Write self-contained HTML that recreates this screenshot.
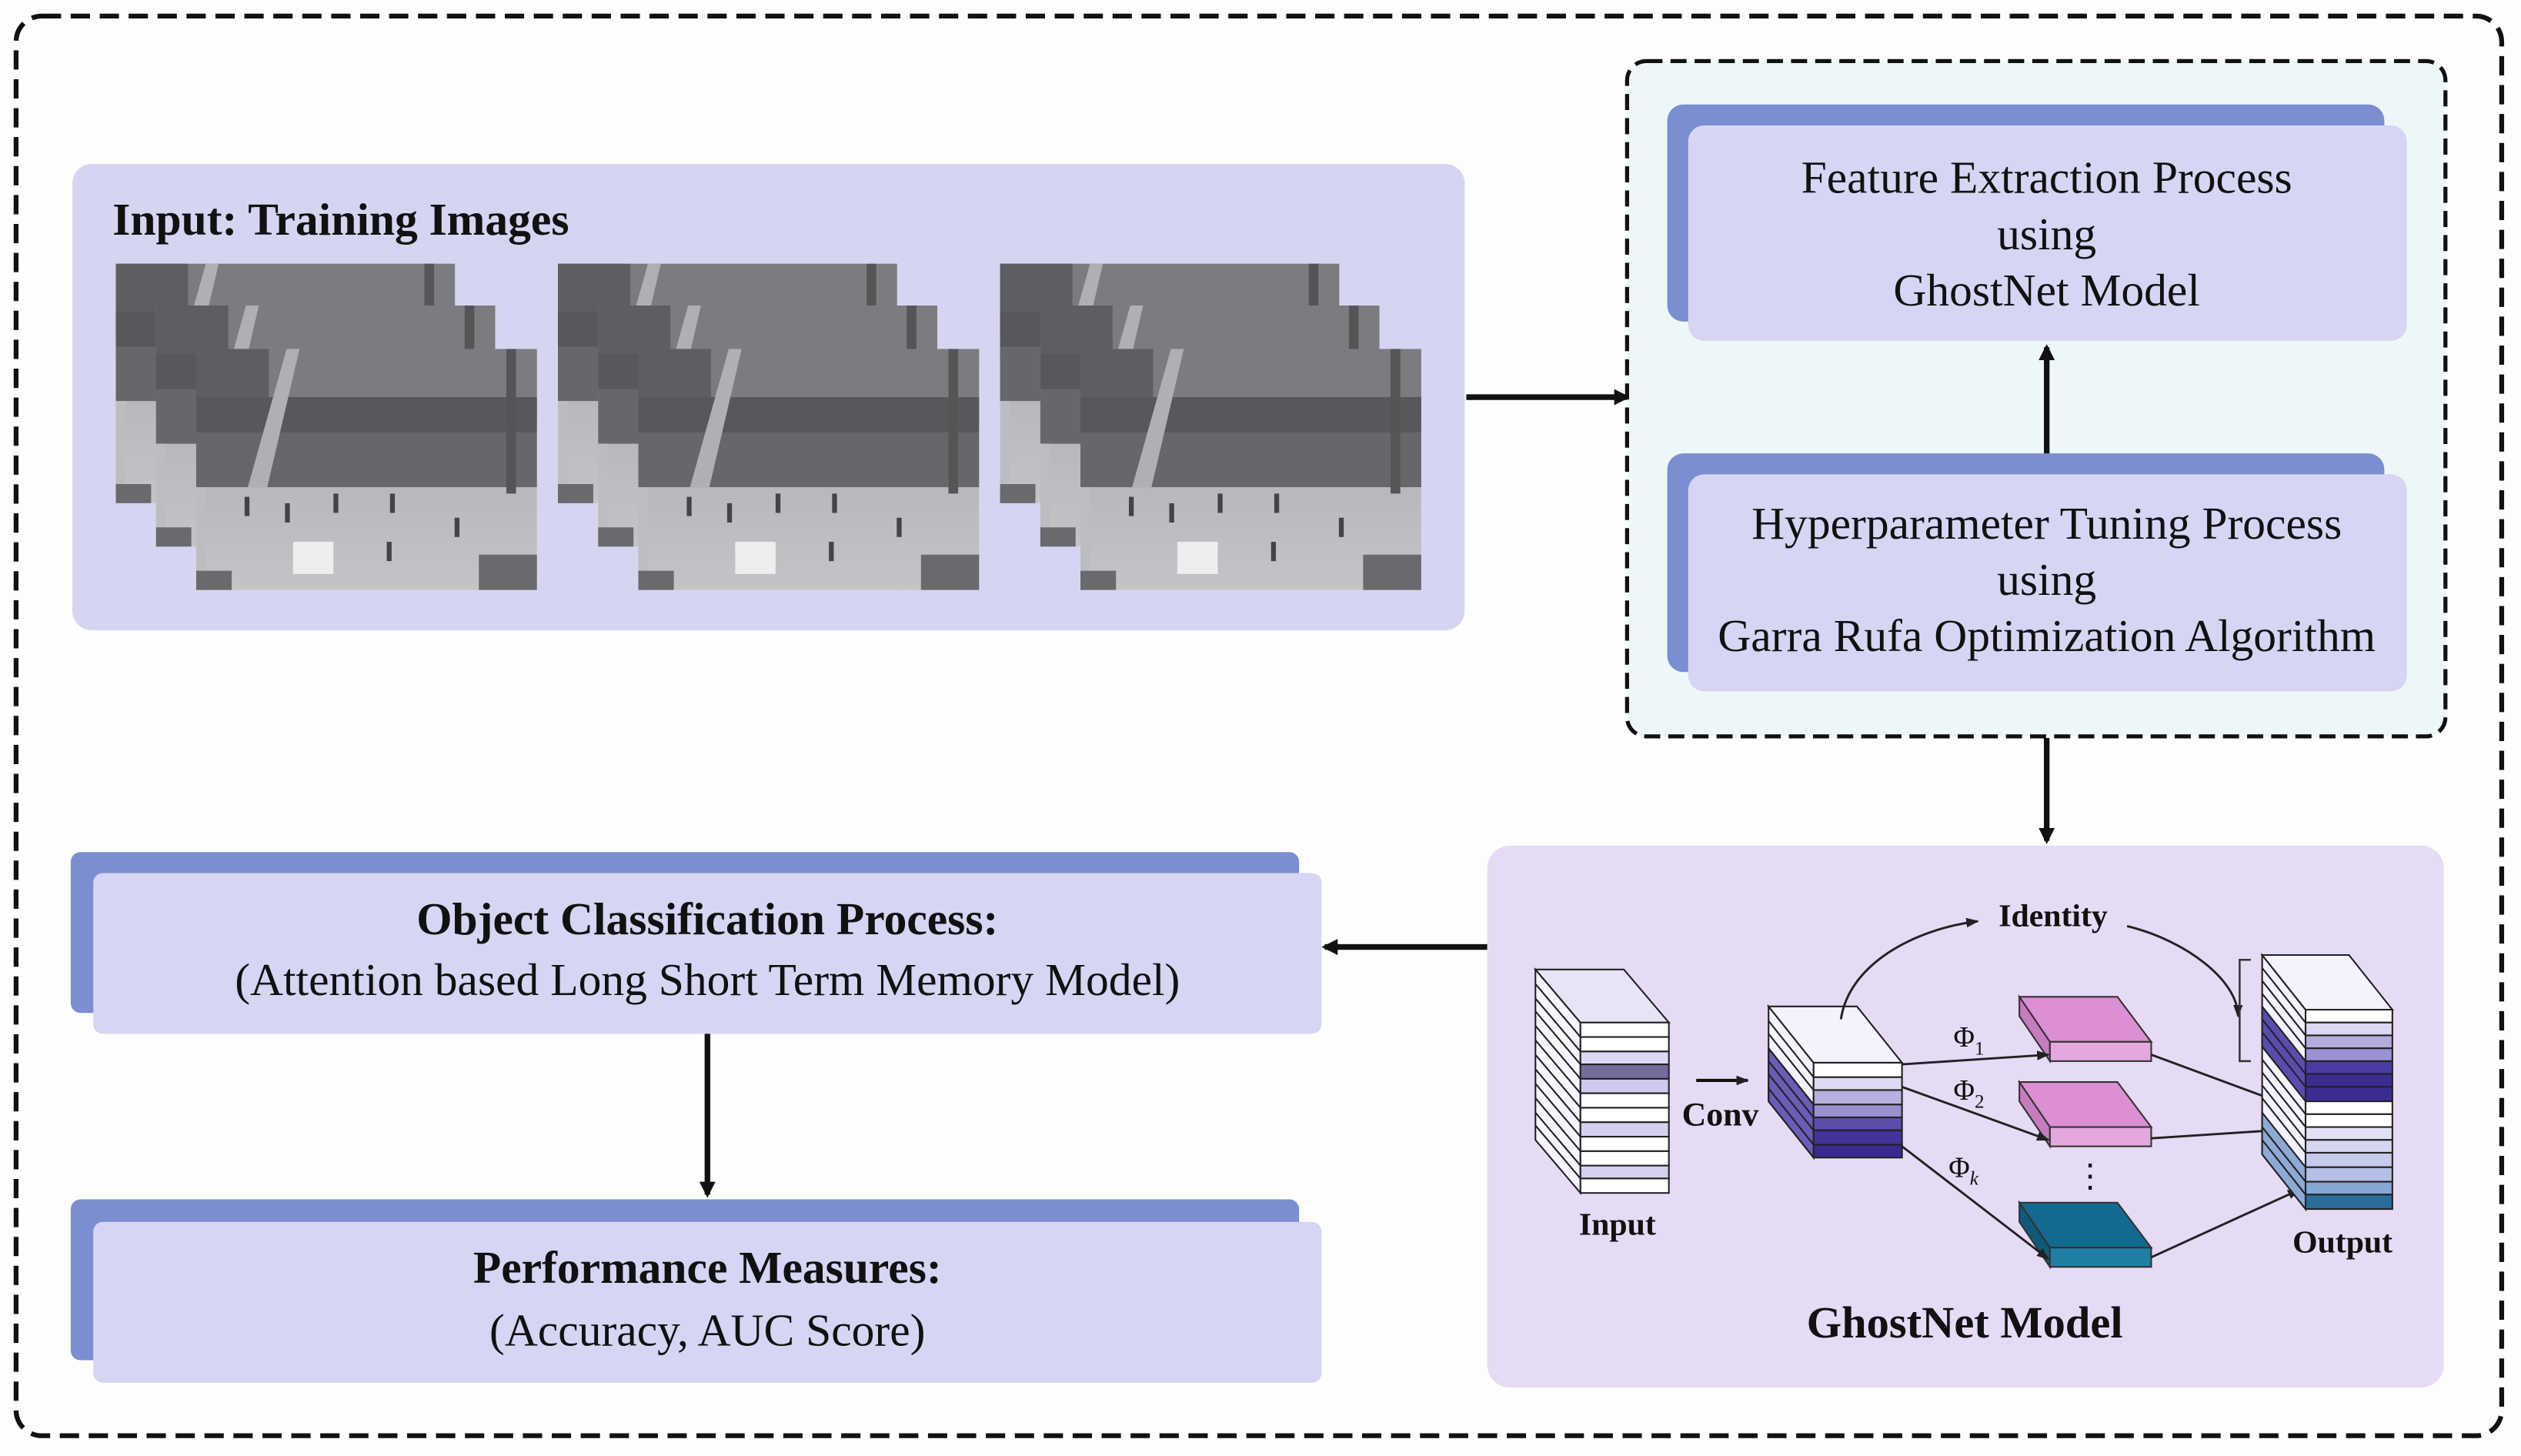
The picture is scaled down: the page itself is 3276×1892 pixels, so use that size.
<!DOCTYPE html>
<html><head><meta charset="utf-8"><style>
html,body{margin:0;padding:0;background:#fff}
svg{display:block}
text{font-family:"Liberation Serif",serif;fill:#111}
</style></head><body>
<svg width="3276" height="1892" viewBox="0 0 1568 905.6" preserveAspectRatio="none" xmlns="http://www.w3.org/2000/svg">
<defs>
<marker id="ah" markerWidth="10" markerHeight="10" refX="8" refY="5" orient="auto" markerUnits="userSpaceOnUse"><path d="M0,0 L10,5 L0,10 z" fill="#111"/></marker>
<marker id="as" markerWidth="8" markerHeight="6" refX="7" refY="3" orient="auto" markerUnits="userSpaceOnUse"><path d="M0,0 L8,3 L0,6 z" fill="#222"/></marker>
<linearGradient id="pave" x1="0" y1="0" x2="0" y2="1"><stop offset="0" stop-color="#a9a9ad"/><stop offset="1" stop-color="#c4c4c8"/></linearGradient>
<symbol id="img" viewBox="0 0 211 150" preserveAspectRatio="none">
<rect width="211" height="150" fill="url(#pave)"/>
<rect width="211" height="46" fill="#7c7c80"/>
<rect x="0" y="0" width="45" height="60" fill="#5e5e62"/>
<rect y="30" width="211" height="22" fill="#58585c"/>
<rect y="52" width="211" height="34" fill="#67676b"/>
<polygon points="32,86 44,86 64,0 56,0" fill="#b0b0b4"/>
<rect x="0" y="86" width="6" height="64" fill="#bdbdc0"/>
<rect x="192" y="0" width="6" height="90" fill="#555"/>
<rect x="175" y="128" width="36" height="22" fill="#6a6a6e"/>
<rect x="0" y="138" width="22" height="12" fill="#6a6a6e"/>
<g fill="#444"><rect x="30" y="92" width="3" height="12"/><rect x="55" y="96" width="3" height="12"/><rect x="85" y="90" width="3" height="12"/><rect x="120" y="90" width="3" height="12"/><rect x="160" y="105" width="3" height="12"/><rect x="118" y="120" width="3" height="12"/></g>
<rect x="60" y="120" width="25" height="20" fill="#eee"/>
</symbol>
</defs>
<rect width="1568" height="905.6" fill="#fdfdfd"/>
<rect x="10" y="10" width="1546" height="883" rx="16" fill="none" stroke="#111" stroke-width="3" stroke-dasharray="12,6"/>

<rect x="45" y="102" width="866" height="290" rx="12" fill="#d6d5f1"/>
<text x="70" y="146" font-size="28.5" font-weight="bold">Input: Training Images</text>
<g>
<use href="#img" x="72" y="164" width="211" height="149"/>
<use href="#img" x="97" y="190" width="211" height="150"/>
<use href="#img" x="122" y="217" width="212" height="150"/>
<use href="#img" x="347" y="164" width="211" height="149"/>
<use href="#img" x="372" y="190" width="211" height="150"/>
<use href="#img" x="397" y="217" width="212" height="150"/>
<use href="#img" x="622" y="164" width="211" height="149"/>
<use href="#img" x="647" y="190" width="211" height="150"/>
<use href="#img" x="672" y="217" width="212" height="150"/>
</g>
<line x1="912" y1="247" x2="1012" y2="247" stroke="#111" stroke-width="3.5" marker-end="url(#ah)"/>

<rect x="1012" y="38" width="509" height="420" rx="12" fill="#eef7f8" stroke="#111" stroke-width="2.5" stroke-dasharray="10,5"/>
<rect x="1037" y="65" width="446" height="135" rx="10" fill="#7b8ed2"/>
<rect x="1050" y="78" width="447" height="134" rx="10" fill="#d6d5f3"/>
<g font-size="28.5" text-anchor="middle">
<text x="1273" y="120">Feature Extraction Process</text>
<text x="1273" y="155">using</text>
<text x="1273" y="190">GhostNet Model</text>
</g>
<line x1="1273" y1="283" x2="1273" y2="216" stroke="#111" stroke-width="3.5" marker-end="url(#ah)"/>
<rect x="1037" y="282" width="446" height="136" rx="10" fill="#7b8ed2"/>
<rect x="1050" y="295" width="447" height="135" rx="10" fill="#d6d5f3"/>
<g font-size="28.5" text-anchor="middle">
<text x="1273" y="335">Hyperparameter Tuning Process</text>
<text x="1273" y="370">using</text>
<text x="1273" y="405">Garra Rufa Optimization Algorithm</text>
</g>
<line x1="1273" y1="459" x2="1273" y2="523" stroke="#111" stroke-width="3.5" marker-end="url(#ah)"/>

<rect x="925" y="526" width="595" height="337" rx="14" fill="#e6dbf5"/>
<line x1="925" y1="589" x2="824" y2="589" stroke="#111" stroke-width="3.5" marker-end="url(#ah)"/>

<rect x="44" y="530" width="764" height="100" rx="6" fill="#7b8ed2"/>
<rect x="58" y="543" width="764" height="100" rx="6" fill="#d6d5f3"/>
<text x="440" y="581" font-size="28.5" font-weight="bold" text-anchor="middle">Object Classification Process:</text>
<text x="440" y="619" font-size="28.5" text-anchor="middle">(Attention based Long Short Term Memory Model)</text>
<line x1="440" y1="643" x2="440" y2="743" stroke="#111" stroke-width="3.5" marker-end="url(#ah)"/>
<rect x="44" y="746" width="764" height="100" rx="6" fill="#7b8ed2"/>
<rect x="58" y="760" width="764" height="100" rx="6" fill="#d6d5f3"/>
<text x="440" y="798" font-size="28.5" font-weight="bold" text-anchor="middle">Performance Measures:</text>
<text x="440" y="837" font-size="28.5" text-anchor="middle">(Accuracy, AUC Score)</text>

<g stroke="#222" stroke-width="1">
<polygon points="983,636 955,603 955,709 983,742" fill="#f6f4fd"/>
<polygon points="983,636 1038,636 1010,603 955,603" fill="#e8e4f8"/>
<rect x="983" y="636" width="55" height="9" fill="#fff"/>
<rect x="983" y="645" width="55" height="9" fill="#fff"/>
<rect x="983" y="654" width="55" height="8" fill="#dcd8f3"/>
<rect x="983" y="662" width="55" height="9" fill="#756b9c"/>
<rect x="983" y="671" width="55" height="9" fill="#cfc9ee"/>
<rect x="983" y="680" width="55" height="9" fill="#fff"/>
<rect x="983" y="689" width="55" height="9" fill="#fff"/>
<rect x="983" y="698" width="55" height="9" fill="#d6d0f0"/>
<rect x="983" y="707" width="55" height="9" fill="#fff"/>
<rect x="983" y="716" width="55" height="9" fill="#fff"/>
<rect x="983" y="725" width="55" height="8" fill="#d6d0f0"/>
<rect x="983" y="733" width="55" height="9" fill="#fff"/>
<path d="M983,645 l-28,-33 M983,654 l-28,-33 M983,662 l-28,-33 M983,671 l-28,-33 M983,680 l-28,-33 M983,689 l-28,-33 M983,698 l-28,-33 M983,707 l-28,-33 M983,716 l-28,-33 M983,725 l-28,-33 M983,733 l-28,-33" fill="none"/>
</g>
<text x="1006" y="768" font-size="20" font-weight="bold" text-anchor="middle">Input</text>
<line x1="1055" y1="672" x2="1087" y2="672" stroke="#111" stroke-width="2" marker-end="url(#as)"/>
<text x="1070" y="700" font-size="21" font-weight="bold" text-anchor="middle">Conv</text>

<g stroke="#222" stroke-width="1">
<polygon points="1128,661 1100,626 1100,685 1128,720" fill="#f4f2fc"/>
<polygon points="1128,687 1100,652 1100,685 1128,720" fill="#6a5cb8"/>
<polygon points="1128,661 1183,661 1155,626 1100,626" fill="#f4f2fc"/>
<rect x="1128" y="661" width="55" height="9" fill="#fff"/>
<rect x="1128" y="670" width="55" height="8" fill="#dedaf3"/>
<rect x="1128" y="678" width="55" height="9" fill="#b8b0e0"/>
<rect x="1128" y="687" width="55" height="8" fill="#9890d0"/>
<rect x="1128" y="695" width="55" height="8" fill="#5c4ea8"/>
<rect x="1128" y="703" width="55" height="9" fill="#43339a"/>
<rect x="1128" y="712" width="55" height="8" fill="#3a2a90"/>
<path d="M1128,670 l-28,-35 M1128,678 l-28,-35 M1128,687 l-28,-35 M1128,695 l-28,-35 M1128,703 l-28,-35 M1128,712 l-28,-35" fill="none"/>
</g>

<g stroke="#333" stroke-width="1">
<polygon points="1256,620 1317,620 1338,648 1275,648" fill="#dc8fd2"/>
<polygon points="1256,620 1275,648 1275,660 1256,632" fill="#c77cbf"/>
<rect x="1275" y="648" width="63" height="12" fill="#e3a8de"/>
<polygon points="1256,673 1317,673 1338,701 1275,701" fill="#dc8fd2"/>
<polygon points="1256,673 1275,701 1275,713 1256,685" fill="#c77cbf"/>
<rect x="1275" y="701" width="63" height="12" fill="#e3a8de"/>
<polygon points="1256,748 1317,748 1338,776 1275,776" fill="#136a90"/>
<polygon points="1256,748 1275,776 1275,788 1256,760" fill="#0f5a7c"/>
<rect x="1275" y="776" width="63" height="12" fill="#1f7ea4"/>
</g>
<text x="1300" y="738" font-size="20" text-anchor="middle">⋮</text>
<g font-size="18">
<text x="1215" y="651">Φ<tspan font-size="12" dy="5">1</tspan></text>
<text x="1215" y="684">Φ<tspan font-size="12" dy="5">2</tspan></text>
<text x="1212" y="732">Φ<tspan font-size="12" dy="5" font-style="italic">k</tspan></text>
</g>
<g stroke="#222" stroke-width="1.4" fill="none" marker-end="url(#as)">
<line x1="1183" y1="662" x2="1274" y2="656"/>
<line x1="1183" y1="676" x2="1274" y2="709"/>
<line x1="1183" y1="713" x2="1274" y2="783"/>
<line x1="1338" y1="656" x2="1430" y2="690"/>
<line x1="1338" y1="708" x2="1430" y2="702"/>
<line x1="1338" y1="782" x2="1430" y2="740"/>
<path d="M1145,634 C1150,600 1190,578 1230,573"/>
<path d="M1323,576 C1360,585 1392,610 1392,632"/>
</g>
<path d="M1400,597 L1393,597 L1393,660 L1400,660" fill="none" stroke="#333" stroke-width="1.2"/>
<text x="1277" y="576" font-size="20" font-weight="bold" text-anchor="middle">Identity</text>

<g stroke="#222" stroke-width="1">
<polygon points="1434,628 1407,594 1407,718 1434,752" fill="#f4f2fc"/>
<polygon points="1434,660 1407,626 1407,651 1434,685" fill="#5a4cae"/>
<polygon points="1434,726 1407,692 1407,718 1434,752" fill="#8fa9d6"/>
<polygon points="1434,628 1488,628 1461,594 1407,594" fill="#f4f2fc"/>
<rect x="1434" y="628" width="54" height="8" fill="#fff"/>
<rect x="1434" y="636" width="54" height="8" fill="#dcd8f3"/>
<rect x="1434" y="644" width="54" height="8" fill="#b4acdf"/>
<rect x="1434" y="652" width="54" height="8" fill="#9a92d4"/>
<rect x="1434" y="660" width="54" height="8" fill="#4a3ca0"/>
<rect x="1434" y="668" width="54" height="8" fill="#3c2c92"/>
<rect x="1434" y="676" width="54" height="9" fill="#3c2c92"/>
<rect x="1434" y="685" width="54" height="8" fill="#fff"/>
<rect x="1434" y="693" width="54" height="8" fill="#fff"/>
<rect x="1434" y="701" width="54" height="8" fill="#e2e0f5"/>
<rect x="1434" y="709" width="54" height="8" fill="#d6d6f0"/>
<rect x="1434" y="717" width="54" height="9" fill="#c6cbeb"/>
<rect x="1434" y="726" width="54" height="9" fill="#b4c0e6"/>
<rect x="1434" y="735" width="54" height="8" fill="#86a6d4"/>
<rect x="1434" y="743" width="54" height="9" fill="#2a6d98"/>
<path d="M1434,636 l-27,-34 M1434,644 l-27,-34 M1434,652 l-27,-34 M1434,668 l-27,-34 M1434,676 l-27,-34 M1434,693 l-27,-34 M1434,701 l-27,-34 M1434,709 l-27,-34 M1434,717 l-27,-34 M1434,735 l-27,-34 M1434,743 l-27,-34" fill="none"/>
</g>
<text x="1457" y="779" font-size="20" font-weight="bold" text-anchor="middle">Output</text>
<text x="1222" y="832" font-size="28" font-weight="bold" text-anchor="middle">GhostNet Model</text>
</svg>
</body></html>
